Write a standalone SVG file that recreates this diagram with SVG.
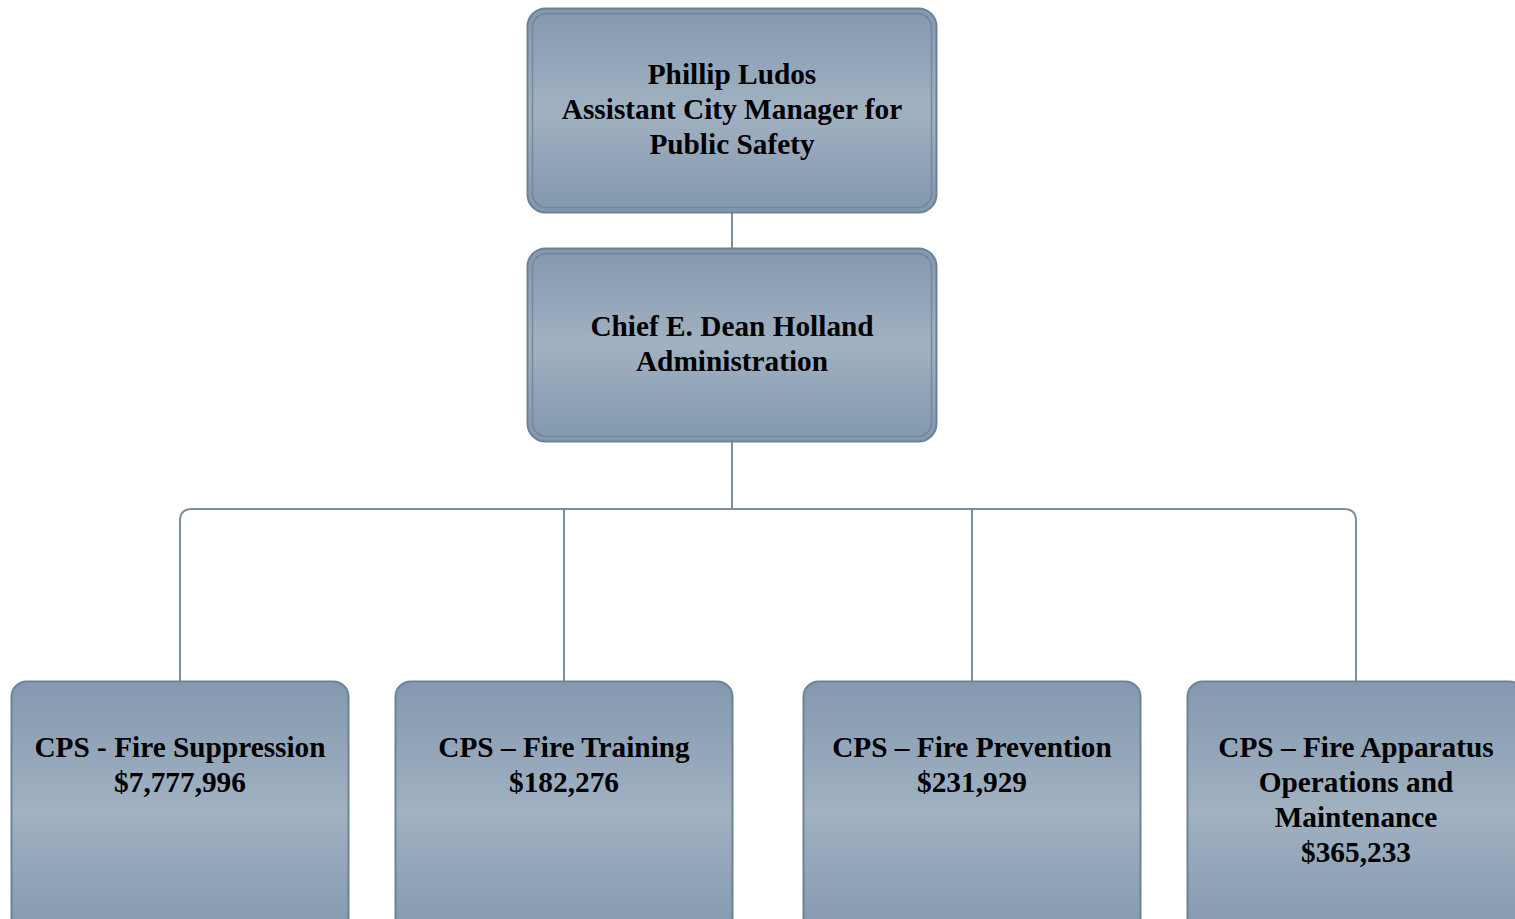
<svg xmlns="http://www.w3.org/2000/svg" width="1515" height="919" viewBox="0 0 1515 919">
  <style>
    .box { fill: url(#steel); stroke: #6e8296; stroke-width: 2; }
    .inner { fill: none; stroke: #6e8296; stroke-width: 1.5; opacity: 0.8; }
    .lbl { font-family: "Liberation Serif", "Times New Roman", serif; font-weight: bold; font-size: 29.3px; fill: #000; text-anchor: middle; }
    .conn { fill: none; stroke: #7d8d9c; stroke-width: 2; }
  </style>
  <defs>
    <linearGradient id="steel" x1="0" y1="0" x2="0" y2="1">
      <stop offset="0" stop-color="#8399b0"/>
      <stop offset="0.5" stop-color="#a1b1c1"/>
      <stop offset="1" stop-color="#8198ae"/>
    </linearGradient>
  </defs>
  <rect width="1515" height="919" fill="#ffffff"/>

  <g id="connectors">
    <line class="conn" x1="732" y1="213" x2="732" y2="248"/>
    <line class="conn" x1="732" y1="442" x2="732" y2="509"/>
    <path class="conn" d="M180 681 V521 Q180 509 192 509 H1344 Q1356 509 1356 521 V681"/>
    <line class="conn" x1="564" y1="509" x2="564" y2="681"/>
    <line class="conn" x1="972" y1="509" x2="972" y2="681"/>
  </g>

  <g id="node-ludos">
    <rect class="box" x="527.5" y="8.5" width="409" height="204" rx="18"/>
    <rect class="inner" x="532.5" y="13.5" width="399" height="194" rx="14"/>
    <text class="lbl" x="732" y="84">Phillip Ludos</text>
    <text class="lbl" x="732" y="119">Assistant City Manager for</text>
    <text class="lbl" x="732" y="154">Public Safety</text>
  </g>

  <g id="node-holland">
    <rect class="box" x="527.5" y="248.5" width="409" height="193" rx="18"/>
    <rect class="inner" x="532.5" y="253.5" width="399" height="183" rx="14"/>
    <text class="lbl" x="732" y="336">Chief E. Dean Holland</text>
    <text class="lbl" x="732" y="371">Administration</text>
  </g>

  <g id="node-suppression">
    <rect class="box" x="11.5" y="681.5" width="337" height="260" rx="15"/>
    <text class="lbl" x="180" y="757">CPS - Fire Suppression</text>
    <text class="lbl" x="180" y="792">$7,777,996</text>
  </g>

  <g id="node-training">
    <rect class="box" x="395.5" y="681.5" width="337" height="260" rx="15"/>
    <text class="lbl" x="564" y="757">CPS – Fire Training</text>
    <text class="lbl" x="564" y="792">$182,276</text>
  </g>

  <g id="node-prevention">
    <rect class="box" x="803.5" y="681.5" width="337" height="260" rx="15"/>
    <text class="lbl" x="972" y="757">CPS – Fire Prevention</text>
    <text class="lbl" x="972" y="792">$231,929</text>
  </g>

  <g id="node-apparatus">
    <rect class="box" x="1187.5" y="681.5" width="337" height="260" rx="15"/>
    <text class="lbl" x="1356" y="757">CPS – Fire Apparatus</text>
    <text class="lbl" x="1356" y="792">Operations and</text>
    <text class="lbl" x="1356" y="827">Maintenance</text>
    <text class="lbl" x="1356" y="862">$365,233</text>
  </g>
</svg>
